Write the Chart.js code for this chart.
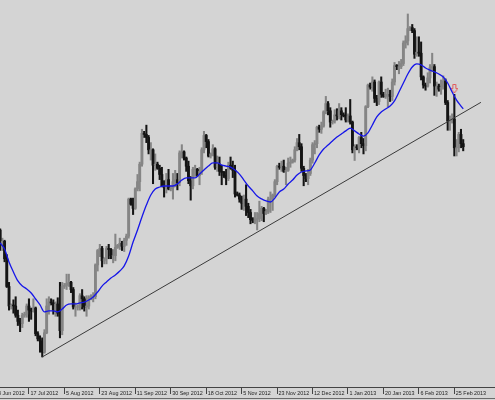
<!DOCTYPE html>
<html><head><meta charset="utf-8">
<script src="https://cdn.jsdelivr.net/npm/chart.js@4/dist/chart.umd.min.js"></script>
<style>html,body{margin:0;padding:0;background:#d4d4d4;overflow:hidden}#wrap{position:relative;width:495px;height:400px}</style>
</head><body><div id="wrap"><canvas id="c" width="495" height="400"></canvas></div>
<script>
// EUR/USD daily bars (Sun-Fri sessions)
const open = [1.2500,1.2440,1.2665,1.2660,1.2585,1.2605,1.2520,1.2385,1.2290,1.2295,1.2290,1.2245,1.2215,1.2205,1.2245,1.2250,1.2290,1.2270,1.2265,1.2280,
1.2155,1.2130,1.2120,1.2065,1.2160,1.2290,1.2310,1.2305,1.2270,1.2300,1.2255,1.2170,1.2385,1.2390,1.2400,1.2405,1.2370,1.2285,1.2285,1.2285,
1.2340,1.2325,1.2285,1.2290,1.2330,1.2335,1.2335,1.2490,1.2560,1.2570,1.2510,1.2520,1.2570,1.2565,1.2535,1.2535,1.2575,1.2585,1.2595,1.2580,
1.2610,1.2630,1.2810,1.2785,1.2765,1.2860,1.2895,1.2980,1.3130,1.3125,1.3110,1.3050,1.3050,1.2975,1.2980,1.2960,1.2930,1.2875,1.2865,1.2905,
1.2860,1.2865,1.2895,1.2905,1.2890,1.3035,1.3040,1.3010,1.2970,1.2900,1.2875,1.2955,1.2955,1.2925,1.2945,1.3050,1.3120,1.3090,1.3020,1.3030,
1.3055,1.2965,1.2980,1.2945,1.2940,1.2925,1.2910,1.2975,1.2960,1.2950,1.2835,1.2830,1.2810,1.2790,1.2810,1.2775,1.2745,1.2710,1.2705,1.2710,
1.2715,1.2740,1.2765,1.2740,1.2750,1.2810,1.2810,1.2830,1.2895,1.2970,1.2965,1.2970,1.2945,1.2950,1.2985,1.2990,1.3000,1.3050,1.3085,1.3065,
1.2960,1.2925,1.2910,1.2935,1.3000,1.3075,1.3080,1.3160,1.3150,1.3165,1.3235,1.3275,1.3240,1.3185,1.3190,1.3220,1.3215,1.3240,1.3220,1.3215,
1.3195,1.3215,1.3185,1.3050,1.3065,1.3060,1.3110,1.3080,1.3070,1.3260,1.3365,1.3355,1.3380,1.3300,1.3285,1.3380,1.3320,1.3310,1.3320,1.3320,
1.3310,1.3380,1.3460,1.3455,1.3455,1.3470,1.3570,1.3580,1.3640,1.3645,1.3630,1.3515,1.3525,1.3520,1.3405,1.3365,1.3360,1.3400,1.3450,1.3455,
1.3360,1.3360,1.3345,1.3355,1.3385,1.3280,1.3190,1.3190,1.3200,1.3060,1.3060,1.3125,1.3080];
const high = [1.2510,1.2690,1.2680,1.2665,1.2620,1.2610,1.2540,1.2405,1.2300,1.2320,1.2335,1.2270,1.2230,1.2255,1.2260,1.2300,1.2325,1.2280,1.2325,1.2285,
1.2165,1.2145,1.2135,1.2175,1.2325,1.2335,1.2325,1.2320,1.2310,1.2330,1.2405,1.2405,1.2400,1.2445,1.2445,1.2410,1.2380,1.2305,1.2295,1.2350,
1.2370,1.2335,1.2340,1.2340,1.2345,1.2355,1.2495,1.2565,1.2590,1.2580,1.2525,1.2580,1.2590,1.2570,1.2565,1.2640,1.2590,1.2620,1.2605,1.2620,
1.2640,1.2815,1.2815,1.2815,1.2865,1.2930,1.2990,1.3150,1.3140,1.3170,1.3120,1.3085,1.3055,1.3030,1.2990,1.2975,1.2965,1.2900,1.2935,1.2955,
1.2875,1.2935,1.2950,1.2935,1.3045,1.3075,1.3045,1.3015,1.2995,1.2920,1.2965,1.2975,1.2960,1.2965,1.3060,1.3140,1.3125,1.3100,1.3035,1.3075,
1.3060,1.3020,1.3015,1.2975,1.2945,1.2955,1.2990,1.3015,1.2995,1.2975,1.2845,1.2840,1.2825,1.2830,1.2880,1.2790,1.2760,1.2720,1.2745,1.2745,
1.2800,1.2775,1.2770,1.2760,1.2820,1.2845,1.2835,1.2905,1.2975,1.2985,1.2995,1.3000,1.2965,1.3010,1.3015,1.3005,1.3065,1.3105,1.3125,1.3080,
1.2970,1.2935,1.2955,1.3010,1.3085,1.3095,1.3165,1.3170,1.3185,1.3240,1.3310,1.3285,1.3255,1.3195,1.3245,1.3250,1.3275,1.3255,1.3230,1.3255,
1.3225,1.3295,1.3190,1.3075,1.3075,1.3115,1.3135,1.3105,1.3265,1.3370,1.3375,1.3405,1.3390,1.3315,1.3385,1.3405,1.3330,1.3345,1.3350,1.3340,
1.3395,1.3475,1.3465,1.3480,1.3490,1.3580,1.3605,1.3711,1.3650,1.3660,1.3640,1.3600,1.3600,1.3575,1.3410,1.3375,1.3425,1.3465,1.3520,1.3465,
1.3380,1.3370,1.3390,1.3410,1.3395,1.3290,1.3215,1.3225,1.3320,1.3100,1.3135,1.3150,1.3100];
const low = [1.2405,1.2420,1.2640,1.2560,1.2560,1.2505,1.2380,1.2270,1.2275,1.2255,1.2235,1.2195,1.2165,1.2185,1.2235,1.2235,1.2215,1.2225,1.2260,1.2145,
1.2120,1.2065,1.2042,1.2060,1.2155,1.2250,1.2295,1.2250,1.2240,1.2240,1.2135,1.2150,1.2375,1.2370,1.2385,1.2355,1.2275,1.2240,1.2270,1.2270,
1.2275,1.2265,1.2240,1.2275,1.2320,1.2310,1.2325,1.2460,1.2530,1.2480,1.2495,1.2495,1.2520,1.2520,1.2500,1.2510,1.2570,1.2565,1.2560,1.2555,
1.2585,1.2620,1.2780,1.2735,1.2760,1.2850,1.2850,1.2970,1.3110,1.3085,1.3030,1.3000,1.2885,1.2950,1.2955,1.2905,1.2870,1.2820,1.2840,1.2855,
1.2850,1.2810,1.2870,1.2855,1.2875,1.3010,1.3000,1.2945,1.2885,1.2805,1.2860,1.2920,1.2920,1.2880,1.2930,1.3035,1.3060,1.3015,1.3010,1.3020,
1.2955,1.2945,1.2925,1.2880,1.2915,1.2880,1.2900,1.2955,1.2915,1.2820,1.2825,1.2795,1.2760,1.2755,1.2730,1.2720,1.2690,1.2695,1.2690,1.2660,
1.2700,1.2705,1.2700,1.2735,1.2740,1.2745,1.2755,1.2820,1.2880,1.2955,1.2945,1.2940,1.2880,1.2945,1.2965,1.2985,1.2990,1.3045,1.3050,1.2945,
1.2875,1.2895,1.2880,1.2925,1.2985,1.3030,1.3060,1.3135,1.3130,1.3160,1.3225,1.3220,1.3160,1.3175,1.3180,1.3195,1.3200,1.3195,1.3210,1.3185,
1.3185,1.3175,1.3035,1.2998,1.3050,1.3035,1.3060,1.3030,1.3045,1.3255,1.3345,1.3335,1.3280,1.3265,1.3270,1.3305,1.3305,1.3300,1.3260,1.3285,
1.3290,1.3365,1.3440,1.3420,1.3445,1.3460,1.3545,1.3560,1.3630,1.3620,1.3495,1.3505,1.3505,1.3390,1.3350,1.3340,1.3355,1.3375,1.3430,1.3315,
1.3310,1.3335,1.3320,1.3345,1.3270,1.3145,1.3145,1.3180,1.3020,1.3020,1.3040,1.3060,1.3045];
const close = [1.2440,1.2665,1.2660,1.2585,1.2605,1.2520,1.2385,1.2290,1.2295,1.2290,1.2245,1.2215,1.2205,1.2245,1.2250,1.2290,1.2270,1.2265,1.2280,1.2155,
1.2130,1.2120,1.2065,1.2160,1.2290,1.2310,1.2305,1.2270,1.2300,1.2255,1.2170,1.2385,1.2390,1.2400,1.2405,1.2370,1.2285,1.2285,1.2285,1.2340,
1.2325,1.2285,1.2290,1.2330,1.2335,1.2335,1.2490,1.2560,1.2570,1.2510,1.2520,1.2570,1.2565,1.2535,1.2535,1.2575,1.2585,1.2595,1.2580,1.2610,
1.2630,1.2810,1.2785,1.2765,1.2860,1.2895,1.2980,1.3130,1.3125,1.3110,1.3050,1.3050,1.2975,1.2980,1.2960,1.2930,1.2875,1.2865,1.2905,1.2860,
1.2865,1.2895,1.2905,1.2890,1.3035,1.3040,1.3010,1.2970,1.2900,1.2875,1.2955,1.2955,1.2925,1.2945,1.3050,1.3120,1.3090,1.3020,1.3030,1.3055,
1.2965,1.2980,1.2945,1.2940,1.2925,1.2910,1.2975,1.2960,1.2950,1.2835,1.2830,1.2810,1.2790,1.2810,1.2775,1.2745,1.2710,1.2705,1.2710,1.2715,
1.2740,1.2765,1.2740,1.2750,1.2810,1.2810,1.2830,1.2895,1.2970,1.2965,1.2970,1.2945,1.2950,1.2985,1.2990,1.3000,1.3050,1.3085,1.3065,1.2960,
1.2925,1.2910,1.2935,1.3000,1.3075,1.3080,1.3160,1.3150,1.3165,1.3235,1.3275,1.3240,1.3185,1.3190,1.3220,1.3215,1.3240,1.3220,1.3215,1.3195,
1.3215,1.3185,1.3050,1.3065,1.3060,1.3110,1.3080,1.3070,1.3260,1.3365,1.3355,1.3380,1.3300,1.3285,1.3380,1.3320,1.3310,1.3320,1.3320,1.3310,
1.3380,1.3460,1.3455,1.3455,1.3470,1.3570,1.3580,1.3640,1.3645,1.3630,1.3515,1.3525,1.3520,1.3405,1.3365,1.3360,1.3400,1.3450,1.3455,1.3360,
1.3360,1.3345,1.3355,1.3385,1.3280,1.3190,1.3190,1.3200,1.3060,1.3060,1.3125,1.3080,1.3065];

// moving average (blue) at these bars
const maBars = [3,5,7,9,11,13,15,17,19,21,23,25,27,29,31,33,35,37,39,41,43,45,47,49,51,53,55,57,59,61,63,65,67,69,71,73,75,77,79,81,83,85,87,89,91,93,95,97,99,101,
103,105,107,109,111,113,115,117,119,121,123,125,127,129,131,133,135,137,139,141,143,145,147,149,151,153,155,157,159,161,163,165,167,169,171,173,175,177,179,181,183,185,187,189,191,193,195,197,199,201,
203,205,207,209,211,212];
const maVals = [1.2597,1.2567,1.2504,1.2455,1.2412,1.2387,1.2373,1.2353,1.2324,1.2295,1.2261,1.2266,1.2266,1.2261,1.2275,1.2295,1.2300,1.2300,1.2305,1.2309,
1.2319,1.2334,1.2358,1.2387,1.2407,1.2426,1.2441,1.2460,1.2485,1.2533,1.2601,1.2660,1.2723,1.2781,1.2830,1.2859,1.2869,1.2874,1.2874,1.2874,
1.2884,1.2903,1.2913,1.2913,1.2913,1.2932,1.2952,1.2971,1.2986,1.2986,1.2976,1.2971,1.2966,1.2952,1.2932,1.2903,1.2874,1.2850,1.2825,1.2811,
1.2801,1.2796,1.2815,1.2845,1.2859,1.2884,1.2903,1.2927,1.2942,1.2947,1.2952,1.2986,1.3025,1.3054,1.3073,1.3093,1.3112,1.3127,1.3142,1.3156,
1.3142,1.3127,1.3117,1.3132,1.3171,1.3210,1.3234,1.3249,1.3263,1.3288,1.3331,1.3375,1.3419,1.3453,1.3468,1.3463,1.3448,1.3438,1.3429,1.3419,
1.3404,1.3375,1.3331,1.3292,1.3263,1.3249];

// trendline end points (bar, price)
const trendBars = [22, 220];
const trendPrices = [1.2042, 1.3281];

// sell arrow marker
const arrowBar = [208];
const arrowPrice = [1.3346];

// x-axis tick labels and the bars they sit on
const tickBars = [0,16,32,48,64,80,96,112,128,144,160,176,192,208];
const tickLabels = ['28 Jun 2012','17 Jul 2012','5 Aug 2012','23 Aug 2012','11 Sep 2012','30 Sep 2012','18 Oct 2012','5 Nov 2012','23 Nov 2012','12 Dec 2012','1 Jan 2013','20 Jan 2013','6 Feb 2013','25 Feb 2013'];

const UP = '#858585', DOWN = '#141414';
const colorOf = (i) => close[i] >= open[i] ? UP : DOWN;

const wickData = high.map((h, i) => ({x: i, y: [low[i], h]}));
const bodyData = open.map((o, i) => ({x: i, y: [Math.min(o, close[i]), Math.max(o, close[i])]}));
const maData = maBars.map((b, i) => ({x: b, y: maVals[i]}));
const trendData = trendBars.map((b, i) => ({x: b, y: trendPrices[i]}));
const arrowData = arrowBar.map((b, i) => ({x: b, y: arrowPrice[i]}));

// arrow glyph
const arrowImg = document.createElement('canvas');
arrowImg.width = 8; arrowImg.height = 10;
(function(){
  const g = arrowImg.getContext('2d');
  g.strokeStyle = '#e05a5a'; g.lineWidth = 1;
  g.beginPath();
  g.moveTo(2.5,0.5); g.lineTo(5.5,0.5); g.lineTo(5.5,4.5); g.lineTo(7.5,4.5);
  g.lineTo(4,9); g.lineTo(0.5,4.5); g.lineTo(2.5,4.5); g.closePath();
  g.stroke();
})();

const frame = {
  id: 'frame',
  afterDraw(chart) {
    const c = chart.ctx;
    c.save();
    c.strokeStyle = '#6a6a6a'; c.lineWidth = 1;
    c.beginPath(); c.moveTo(0, 398.5); c.lineTo(495, 398.5); c.stroke();
    c.restore();
  }
};

new Chart(document.getElementById('c'), {
  type: 'bar',
  data: {
    datasets: [
      {type: 'line', data: maData, borderColor: '#1616e8', borderWidth: 1.3, pointRadius: 0, cubicInterpolationMode: 'monotone', order: 0},
      {type: 'line', data: trendData, borderColor: '#3a3a3a', borderWidth: 1, pointRadius: 0, order: 1},
      {type: 'line', data: arrowData, showLine: false, pointStyle: arrowImg, order: 0},
      {data: bodyData, barThickness: 2.2, grouped: false, backgroundColor: c => colorOf(c.dataIndex), order: 2},
      {data: wickData, barThickness: 1.4, grouped: false, backgroundColor: c => colorOf(c.dataIndex), order: 3}
    ]
  },
  options: {
    responsive: false,
    devicePixelRatio: 1,
    animation: false,
    layout: {padding: 0, autoPadding: false},
    plugins: {legend: {display: false}, tooltip: {enabled: false}},
    scales: {
      x: {
        type: 'linear', min: 2.934, max: 226.35, offset: false,
        afterBuildTicks: s => { s.ticks = tickBars.map(v => ({value: v})); },
        afterFit: s => { s.height = 13; s.paddingLeft = 0; s.paddingRight = 0; },
        ticks: {autoSkip: false, maxRotation: 0, minRotation: 0, align: 'start', labelOffset: 1.5, padding: -4,
          color: '#222', font: {family: 'Liberation Sans', size: 5.4},
          callback: (v, i) => tickLabels[i]},
        grid: {drawOnChartArea: false, drawTicks: true, tickLength: 7, tickColor: '#444', offset: false},
        border: {display: true, color: '#444', width: 1}
      },
      y: {display: false, min: 1.18958, max: 1.3779, beginAtZero: false}
    }
  },
  plugins: [frame]
});
</script></body></html>
